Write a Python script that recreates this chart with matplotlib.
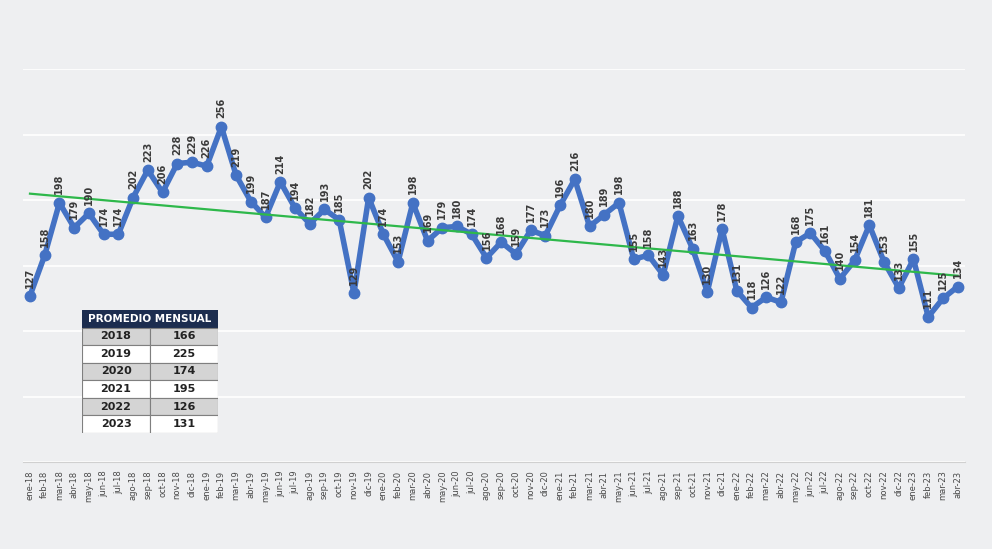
import numpy as np
import matplotlib.pyplot as plt
from matplotlib.patches import Rectangle

# Datos mensuales (ene-18 a abr-23)
meses = ['ene', 'feb', 'mar', 'abr', 'may', 'jun', 'jul', 'ago', 'sep', 'oct', 'nov', 'dic']
anios = ['18', '19', '20', '21', '22', '23']
etiquetas = [m + '-' + a for a in anios for m in meses][:64]

valores = [127, 158, 198, 179, 190, 174, 174, 202, 223, 206, 228, 229,
           226, 256, 219, 199, 187, 214, 194, 182, 193, 185, 129, 202,
           174, 153, 198, 169, 179, 180, 174, 156, 168, 159, 177, 173,
           196, 216, 180, 189, 198, 155, 158, 143, 188, 163, 130, 178,
           131, 118, 126, 122, 168, 175, 161, 140, 154, 181, 153, 133,
           155, 111, 125, 134]

# Tabla de promedios
tabla_anios = ['2018', '2019', '2020', '2021', '2022', '2023']
tabla_prom = [166, 225, 174, 195, 126, 131]

azul = '#4472c4'
verde = '#2eb84b'
fondo = '#eeeff1'

fig = plt.figure(figsize=(9.92, 5.49), dpi=100)
fig.patch.set_facecolor(fondo)
ax = fig.add_axes([0.0228, 0.158, 0.950, 0.716])
ax.set_facecolor(fondo)

x = np.arange(len(valores))
ax.plot(x, valores, color=azul, lw=4, marker='o', markersize=7.5, zorder=3)

# Línea de tendencia
coef = np.polyfit(x, valores, 1)
ax.plot(x, np.polyval(coef, x), color=verde, lw=1.6, zorder=4)

for xi, v in zip(x, valores):
    ax.annotate(str(v), (xi, v), xytext=(0, 6), textcoords='offset points',
                rotation=90, ha='center', va='bottom', fontsize=7,
                fontweight='bold', color='#3a3a3a', zorder=5)

ax.set_xlim(-0.5, 63.5)
ax.set_ylim(0, 300)
ax.set_yticks(np.arange(0, 301, 50))
ax.set_yticklabels([])
ax.tick_params(axis='y', length=0)
ax.grid(axis='y', color='white', lw=1.2)
ax.set_axisbelow(True)
ax.set_xticks(x)
ax.set_xticklabels(etiquetas, rotation=90, fontsize=6, color='#4a4a4a')
ax.tick_params(axis='x', length=0, pad=6)
for s in ['top', 'right', 'left']:
    ax.spines[s].set_visible(False)
ax.spines['bottom'].set_color('#d0d0d0')

# Tabla PROMEDIO MENSUAL
tax = fig.add_axes([82 / 992, (549 - 433) / 549, 136 / 992, 123 / 549])
tax.set_xlim(0, 2)
tax.set_ylim(0, 7)
tax.axis('off')
tax.add_patch(Rectangle((0, 6), 2, 1, facecolor='#1c2d4f', edgecolor='#1c2d4f'))
tax.text(1, 6.5, 'PROMEDIO MENSUAL', color='white', fontsize=7.5,
         fontweight='bold', ha='center', va='center')
for i, (a, p) in enumerate(zip(tabla_anios, tabla_prom)):
    y0 = 5 - i
    fc = '#d4d4d4' if i % 2 == 0 else 'white'
    for c in range(2):
        tax.add_patch(Rectangle((c, y0), 1, 1, facecolor=fc, edgecolor='#7f7f7f', lw=0.8))
    tax.text(0.5, y0 + 0.5, a, ha='center', va='center', fontsize=8, fontweight='bold', color='#222222')
    tax.text(1.5, y0 + 0.5, str(p), ha='center', va='center', fontsize=8, fontweight='bold', color='#222222')

fig.savefig('out.png', dpi=100, facecolor=fig.get_facecolor())
